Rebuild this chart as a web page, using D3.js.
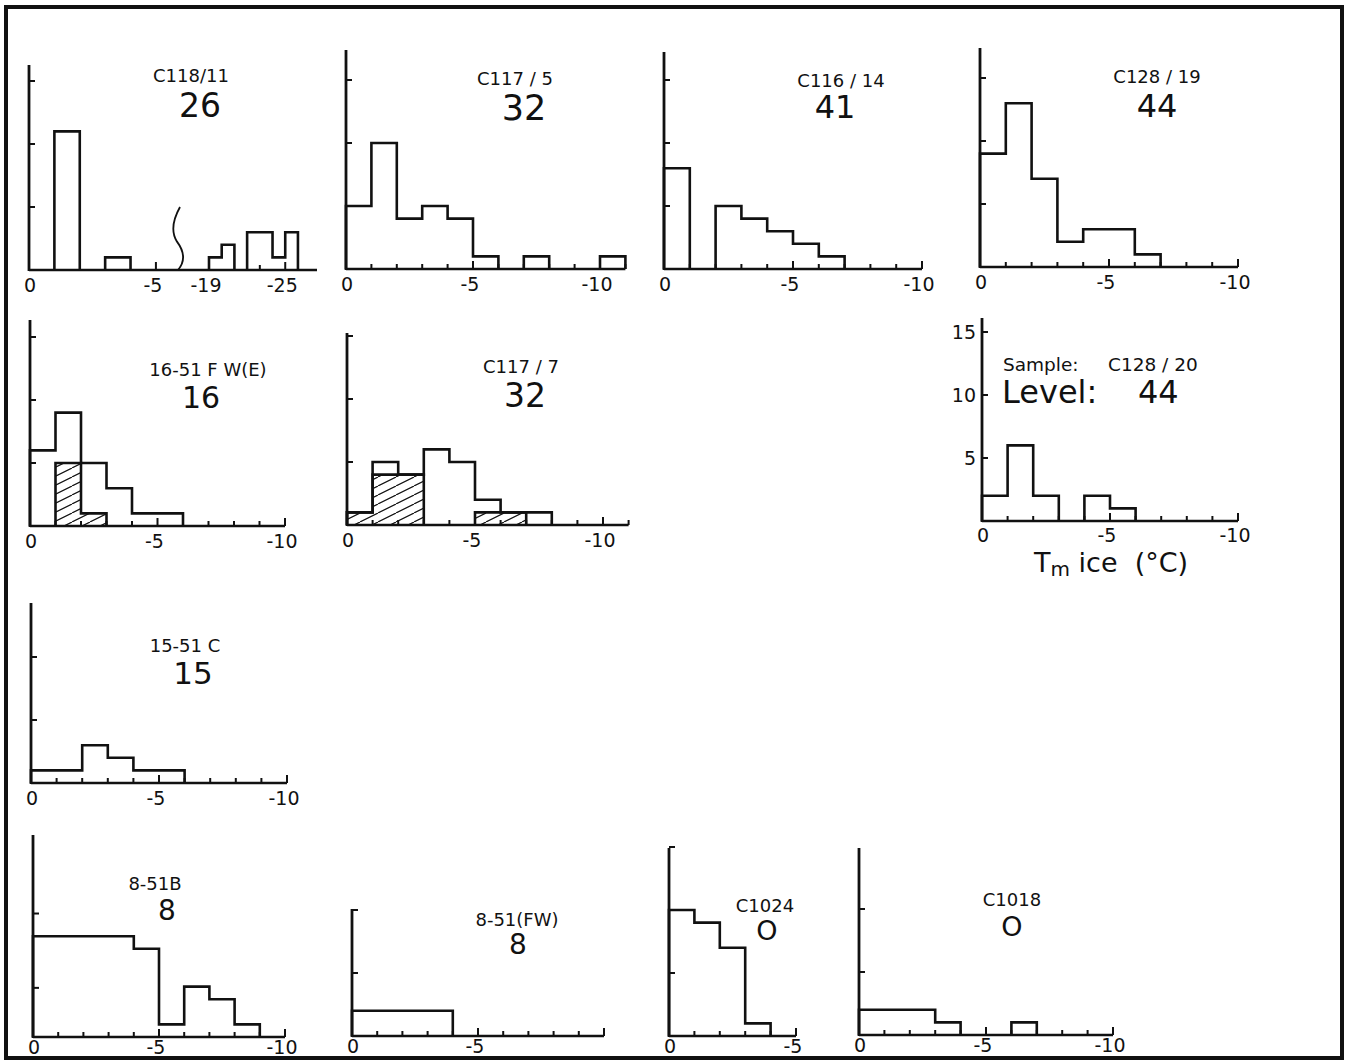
<!DOCTYPE html>
<html>
<head>
<meta charset="utf-8">
<script src="https://cdn.jsdelivr.net/npm/d3@7"></script>
<style>
  body { margin: 0; background: #fff; }
  text { font-family: "DejaVu Sans", "Liberation Sans", sans-serif; fill: #111; white-space: pre; }
</style>
</head>
<body>
<div id="chart"></div>
<script>
/* Data: number of inclusions per 1 °C bin of Tm ice, bin 0 = 0..-1 °C, bin 1 = -1..-2 °C ... */
const sampleNames = ["C118/11", "C117 / 5", "C116 / 14", "C128 / 19", "16-51 F W(E)", "C117 / 7",
                     "C128 / 20", "15-51 C", "8-51B", "8-51(FW)", "C1024", "C1018"];
const levels = ["26", "32", "41", "44", "16", "32", "44", "15", "8", "8", "O", "O"];

const c118_11 = [0, 11, 0, 1, 0];
const c118_11Cold = [1, 2, 0, 3, 3, 1, 3]; // bins starting at -19 °C
const c117_5 = [5, 10, 4, 5, 4, 1, 0, 1, 0, 0, 1];
const c116_14 = [8, 0, 5, 4, 3, 2, 1];
const c128_19 = [9, 13, 7, 2, 3, 3, 1];
const fw16_51 = [6, 9, 5, 3, 1, 1];
const fw16_51Hatch = [0, 5, 1];
const c117_7 = [1, 5, 4, 6, 5, 2, 1, 1];
const c117_7Hatch = [1, 4, 4, 0, 0, 1, 1];
const c128_20 = [2, 6, 2, 0, 2, 1];
const c15_51 = [1, 1, 3, 2, 1, 1];
const b8_51 = [8, 8, 8, 8, 7, 1, 4, 3, 1];
const fw8_51 = [2, 2, 2, 2];
const c1024 = [10, 9, 7, 1];
const c1018 = [2, 2, 2, 1, 0, 0, 1];

const yTickValues = [5, 10, 15];
const xTickLabels = [0, -5, -10];

/* drawing setup */
const width = 1348, height = 1063;
const unit = 12.6;      // px per count
const lw = 2.6;

const svg = d3.select("#chart").append("svg")
    .attr("width", width).attr("height", height);

// hatch pattern "/" at a shallow angle
svg.append("defs").append("pattern")
    .attr("id", "hatch")
    .attr("patternUnits", "userSpaceOnUse")
    .attr("width", 18).attr("height", 9)
    .append("path")
    .attr("d", "M0,9 L18,0 M-18,9 L0,0 M18,9 L36,0")
    .attr("stroke", "#111").attr("stroke-width", 1.2);

// outer frame
svg.append("rect")
    .attr("x", 6).attr("y", 7).attr("width", 1336).attr("height", 1051)
    .attr("fill", "none").attr("stroke", "#111").attr("stroke-width", 4);

// layout for each panel
const panels = [
  { i: 0, counts: c118_11, extra: { counts: c118_11Cold, start: -19 },
    dom: [0, -5.87, -19, -27.5], rng: [29, 178, 209, 317], xEnd: -27.5,
    base: 270, top: 65, labels: [0, -5, -19, -25], xt: [-5, -23, -25],
    nx: 191, ny: 82, lx: 200, ly: 117, ls: 33 },
  { i: 1, counts: c117_5, x0: 346, ppd: 25.4, xEnd: -11, base: 269, top: 50,
    nx: 515, ny: 85, lx: 524, ly: 120, ls: 35 },
  { i: 2, counts: c116_14, x0: 664, ppd: 25.8, xEnd: -10, base: 269, top: 52,
    nx: 841, ny: 87, lx: 835, ly: 118, ls: 32 },
  { i: 3, counts: c128_19, x0: 980, ppd: 25.8, xEnd: -10, base: 267, top: 48,
    nx: 1157, ny: 83, lx: 1157, ly: 117, ls: 32 },
  { i: 4, counts: fw16_51, hatch: fw16_51Hatch, x0: 30, ppd: 25.5, xEnd: -10, base: 526, top: 320,
    nx: 208, ny: 376, lx: 201, ly: 408, ls: 30 },
  { i: 5, counts: c117_7, hatch: c117_7Hatch, x0: 347, ppd: 25.6, xEnd: -11, base: 525, top: 333,
    nx: 521, ny: 373, lx: 525, ly: 407, ls: 33 },
  { i: 6, counts: c128_20, x0: 982, ppd: 25.6, xEnd: -10, base: 521, top: 318, legend: true },
  { i: 7, counts: c15_51, x0: 31, ppd: 25.6, xEnd: -10, base: 783, top: 603,
    nx: 185, ny: 652, lx: 193, ly: 684, ls: 31 },
  { i: 8, counts: b8_51, x0: 33, ppd: 25.2, xEnd: -10, base: 1037, top: 835, yt: [3.9, 9.8],
    nx: 155, ny: 890, lx: 167, ly: 920, ls: 28, bottom: true },
  { i: 9, counts: fw8_51, x0: 352, ppd: 25.2, xEnd: -10, base: 1036, top: 909, labels: [0, -5],
    nx: 517, ny: 926, lx: 518, ly: 954, ls: 28, bottom: true },
  { i: 10, counts: c1024, x0: 669, ppd: 25.4, xEnd: -5, base: 1036, top: 848, labels: [0, -5],
    nx: 765, ny: 912, lx: 767, ly: 940, ls: 27, bottom: true },
  { i: 11, counts: c1018, x0: 859, ppd: 25.4, xEnd: -10, base: 1035, top: 848,
    nx: 1012, ny: 906, lx: 1012, ly: 936, ls: 27, bottom: true }
];

// turn a list of bin counts into step outlines (one per run of non-empty bins)
function stepRuns(counts, start) {
    let out = [];
    let cur = null;
    counts.forEach(function(c, k) {
        let a = start - k, b = start - k - 1;
        if (c > 0) {
            if (!cur) { cur = [[a, 0]]; out.push(cur); }
            cur.push([a, c], [b, c]);
        } else if (cur) {
            cur.push([a, 0]);
            cur = null;
        }
    });
    if (cur) cur.push([start - counts.length, 0]);
    return out;
}

function drawPanel(p) {
    let g = svg.append("g");
    let x = p.dom
        ? d3.scaleLinear().domain(p.dom).range(p.rng)
        : d3.scaleLinear().domain([0, -10]).range([p.x0, p.x0 + 10 * p.ppd]);
    let y = d3.scaleLinear().domain([0, (p.base - p.top) / unit]).range([p.base, p.top]);
    let line = d3.line().x(d => x(d[0])).y(d => y(d[1]));

    if (p.hatch) {
        g.selectAll(".hatch").data(stepRuns(p.hatch, 0)).enter().append("path")
            .attr("d", line)
            .attr("fill", "url(#hatch)")
            .attr("stroke", "#111").attr("stroke-width", lw);
    }
    let runs = stepRuns(p.counts, 0);
    if (p.extra) runs = runs.concat(stepRuns(p.extra.counts, p.extra.start));
    g.selectAll(".bar").data(runs).enter().append("path")
        .attr("d", line)
        .attr("fill", "none")
        .attr("stroke", "#111").attr("stroke-width", lw)
        .attr("stroke-linejoin", "miter");

    // axes
    g.append("line")
        .attr("x1", x(0)).attr("x2", x(0))
        .attr("y1", y(0) + 1).attr("y2", p.top)
        .attr("stroke", "#111").attr("stroke-width", 2.8);
    g.append("line")
        .attr("x1", x(0)).attr("x2", x(p.xEnd))
        .attr("y1", y(0)).attr("y2", y(0))
        .attr("stroke", "#111").attr("stroke-width", lw);

    // y ticks
    let yt = p.yt || yTickValues.filter(v => y(v) >= p.top - 1);
    g.selectAll(".yt").data(yt).enter().append("line")
        .attr("x1", x(0)).attr("x2", x(0) + 6)
        .attr("y1", d => y(d)).attr("y2", d => y(d))
        .attr("stroke", "#111").attr("stroke-width", 2);

    // x ticks
    let xt = p.xt || d3.range(-1, p.xEnd - 0.5, -1);
    g.selectAll(".xt").data(xt).enter().append("line")
        .attr("x1", d => x(d)).attr("x2", d => x(d))
        .attr("y1", y(0)).attr("y2", d => y(0) - (d % 5 === 0 ? 8 : 5))
        .attr("stroke", "#111").attr("stroke-width", 2);

    // x tick labels
    let labs = p.labels || xTickLabels;
    g.selectAll(".xl").data(labs).enter().append("text")
        .attr("x", d => x(d) + (d < 0 ? -3 : 1))
        .attr("y", y(0) + (p.bottom ? 17 : (p.legend ? 21 : 22)))
        .attr("text-anchor", "middle")
        .attr("font-size", 19)
        .text(d => d === 0 ? "0" : "-" + Math.abs(d));

    if (p.extra) {
        // axis break between -5 and -19
        let bx = x(-5.87), b0 = y(0), b1 = y(5);
        let h = (b0 - b1);
        g.append("path")
            .attr("d", `M${bx},${b0} C${bx + 8},${b0 - h * 0.15} ${bx + 6},${b0 - h * 0.3} ${bx - 1},${b0 - h * 0.45}`
                + ` C${bx - 7},${b0 - h * 0.6} ${bx - 5},${b0 - h * 0.8} ${bx + 2},${b1}`)
            .attr("fill", "none").attr("stroke", "#111").attr("stroke-width", 1.8);
    }

    if (p.legend) {
        g.selectAll(".yl").data(yTickValues).enter().append("text")
            .attr("x", x(0) - 6).attr("y", d => y(d) + 7)
            .attr("text-anchor", "end").attr("font-size", 19)
            .text(d => d);
        g.append("text").attr("x", x(0) + 21).attr("y", 371).attr("font-size", 18.5)
            .text("Sample:     " + sampleNames[p.i]);
        g.append("text").attr("x", x(0) + 20).attr("y", 403).attr("font-size", 32)
            .text("Level:    " + levels[p.i]);
        let t = g.append("text").attr("x", x(0) + 52).attr("y", 572).attr("font-size", 27);
        t.append("tspan").text("T");
        t.append("tspan").attr("font-size", 20).attr("dy", 4).text("m");
        t.append("tspan").attr("dy", -4).text(" ice  (°C)");
    } else {
        g.append("text").attr("x", p.nx).attr("y", p.ny)
            .attr("text-anchor", "middle").attr("font-size", 18)
            .text(sampleNames[p.i]);
        g.append("text").attr("x", p.lx).attr("y", p.ly)
            .attr("text-anchor", "middle").attr("font-size", p.ls)
            .text(levels[p.i]);
    }
}

panels.forEach(drawPanel);
</script>
</body>
</html>
